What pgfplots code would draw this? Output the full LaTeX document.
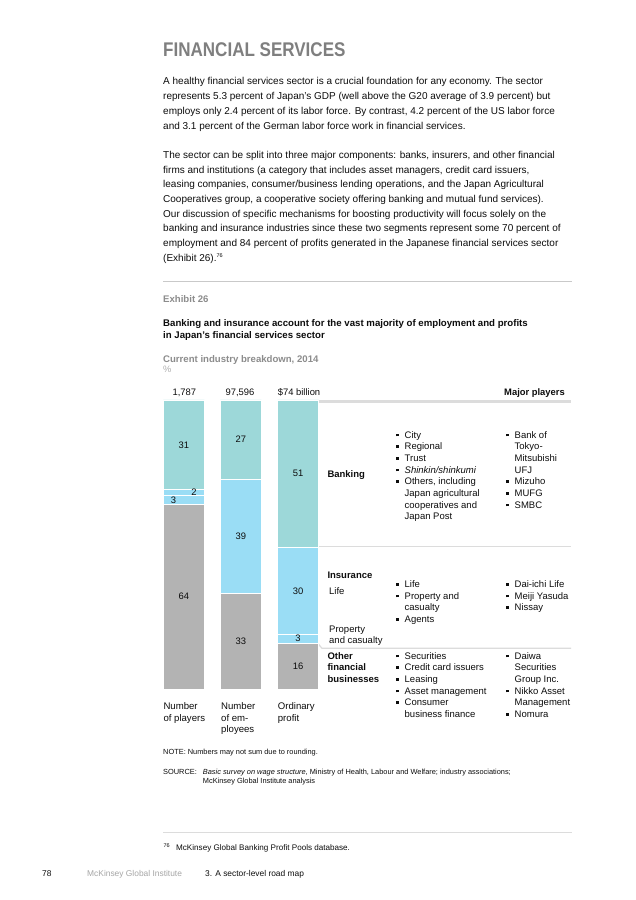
\documentclass[border=0pt]{standalone}
\usepackage{pgfplots}
\pgfplotsset{compat=1.18}
\usepackage{fontspec}
\setmainfont{Liberation Sans}
\usepackage{graphicx}
\definecolor{cteal}{HTML}{9DD8D9}
\definecolor{cblue}{HTML}{9ADDF5}
\definecolor{cgrey}{HTML}{B3B3B3}
\definecolor{headgrey}{HTML}{7F7F7F}
\definecolor{subgrey}{HTML}{8C8C8C}
\definecolor{rulegrey}{HTML}{DCDCDC}
\definecolor{txt}{HTML}{0D0D0D}
\newcommand\fs[2]{\fontsize{#1bp}{#2bp}\selectfont}
\newcommand\tx[4][]{\node[anchor=base west,inner sep=0pt,text=txt,#1] at (#2,{900-#3}) {#4};}
\newcommand\bul{\raisebox{0.2em}{\rule{2.6bp}{2.6bp}}}
\newcommand\bi[4][]{\node[anchor=base west,inner sep=0pt,text=txt,#1] at (#2,{900-#3}) {\bul};\node[anchor=base west,inner sep=0pt,text=txt,#1] at ({#2+8.5},{900-#3}) {#4};}
\begin{document}
\begin{tikzpicture}[x=1bp,y=1bp]
\path[fill=white] (0,0) rectangle (636,900);
% heading
\tx[text=headgrey]{163}{57}{\fs{19.8}{22}\bfseries\scalebox{0.86}[1]{FINANCIAL SERVICES}}
% paragraph 1
\tx{163}{85}{\fs{10}{12}A healthy financial services sector is a crucial foundation for any economy. The sector}
\tx{163}{99.8}{\fs{10}{12}represents 5.3 percent of Japan’s GDP (well above the G20 average of 3.9 percent) but}
\tx{163}{114.6}{\fs{10}{12}employs only 2.4 percent of its labor force. By contrast, 4.2 percent of the US labor force}
\tx{163}{129.4}{\fs{10}{12}and 3.1 percent of the German labor force work in financial services.}
% paragraph 2
\tx{163}{158.5}{\fs{10}{12}The sector can be split into three major components: banks, insurers, and other financial}
\tx{163}{173.2}{\fs{10}{12}firms and institutions (a category that includes asset managers, credit card issuers,}
\tx{163}{187.9}{\fs{10}{12}leasing companies, consumer/business lending operations, and the Japan Agricultural}
\tx{163}{202.6}{\fs{10}{12}Cooperatives group, a cooperative society offering banking and mutual fund services).}
\tx{163}{217.3}{\fs{10}{12}Our discussion of specific mechanisms for boosting productivity will focus solely on the}
\tx{163}{232.0}{\fs{10}{12}banking and insurance industries since these two segments represent some 70 percent of}
\tx{163}{246.7}{\fs{10}{12}employment and 84 percent of profits generated in the Japanese financial services sector}
\tx{163}{261.4}{\fs{10}{12}(Exhibit 26).\textsuperscript{\fs{5.5}{6}76}}
% rule
\draw[rulegrey!80!gray, line width=1bp] (163,{900-282}) -- (572,{900-282});
% exhibit header
\tx[text=subgrey]{163}{302.5}{\fs{9.6}{11}\bfseries Exhibit 26}
\tx{163}{326.8}{\fs{9.65}{11}\bfseries Banking and insurance account for the vast majority of employment and profits}
\tx{163}{338.6}{\fs{9.65}{11}\bfseries in Japan’s financial services sector}
\tx[text=subgrey]{163}{362.2}{\fs{9.6}{11}\bfseries Current industry breakdown, 2014}
\tx[text=subgrey!70]{163}{373}{\fs{9.3}{11}\%}
% column headers
\node[anchor=base,inner sep=0pt,text=txt] at (184.3,{900-395.5}) {\fs{9.4}{11}1,787};
\node[anchor=base,inner sep=0pt,text=txt] at (240,{900-395.5}) {\fs{9.4}{11}97,596};
\tx{277.7}{395.5}{\fs{9.4}{11}\$74 billion}
\node[anchor=base east,inner sep=0pt,text=txt] at (565,{900-395.5}) {\fs{9.4}{11}\bfseries Major players};
% right section rules
\draw[rulegrey, line width=2.6bp] (318.3,{900-401.3}) -- (571,{900-401.3});
\draw[rulegrey, line width=1.2bp] (318.3,{900-546.7}) -- (571,{900-546.7});
\draw[rulegrey, line width=1.2bp] (318.3,{900-644}) -- (322,{900-648.3}) -- (571,{900-648.3});
% stacked bars
\begin{axis}[at={(163.3bp,210.7bp)}, anchor=south west, scale only axis,
  width=155.2bp, height=289.3bp, xmin=-0.358, xmax=2.358, ymin=0, ymax=100,
  hide axis, ybar stacked, bar width=41bp, clip=false]
\addplot[fill=cgrey, draw=white, line width=0.9bp] coordinates {(0,64) (1,33.2) (2,16)};
\addplot[fill=cblue, draw=white, line width=0.9bp] coordinates {(0,3) (1,0) (2,3)};
\addplot[fill=cblue, draw=white, line width=0.9bp] coordinates {(0,2) (1,39.4) (2,30)};
\addplot[fill=cteal, draw=white, line width=0.9bp] coordinates {(0,31) (1,27.4) (2,51)};
\end{axis}
% segment labels
\begin{axis}[at={(163.3bp,210.7bp)}, anchor=south west, scale only axis,
  width=155.2bp, height=289.3bp, xmin=-0.358, xmax=2.358, ymin=0, ymax=100,
  hide axis, clip=false]
\addplot[only marks, mark=none, nodes near coords, point meta=explicit symbolic,
  every node near coord/.style={anchor=center, inner sep=0.6bp, text=txt, font=\fs{9.4}{11}}]
  table[meta=lab] {
x y lab
0 32 64
-0.18 65.3 3
0.18 68.2 2
0 84.5 31
1 16.6 33
1 52.9 39
1 86.3 27
2 8 16
2 17.5 3
2 34 30
2 74.5 51
};
\end{axis}
% bar captions
\tx{163.3}{709.5}{\fs{9.6}{11}Number}
\tx{163.3}{721.2}{\fs{9.6}{11}of players}
\tx{221}{709.5}{\fs{9.6}{11}Number}
\tx{221}{721.2}{\fs{9.6}{11}of em-}
\tx{221}{732.8}{\fs{9.6}{11}ployees}
\tx{277.7}{709.5}{\fs{9.6}{11}Ordinary}
\tx{277.7}{721.2}{\fs{9.6}{11}profit}
% banking
\tx{327.3}{477.3}{\fs{9.5}{11}\bfseries Banking}
\bi{396}{438.3}{\fs{9.5}{11}City}
\bi{396}{450}{\fs{9.5}{11}Regional}
\bi{396}{461.6}{\fs{9.5}{11}Trust}
\bi{396}{473.3}{\fs{9.5}{11}\itshape Shinkin/shinkumi}
\bi{396}{485}{\fs{9.5}{11}Others, including}
\tx{404.5}{496.6}{\fs{9.5}{11}Japan agricultural}
\tx{404.5}{508.3}{\fs{9.5}{11}cooperatives and}
\tx{404.5}{520}{\fs{9.5}{11}Japan Post}
\bi{506}{438.3}{\fs{9.5}{11}Bank of}
\tx{514.5}{450}{\fs{9.5}{11}Tokyo-}
\tx{514.5}{461.6}{\fs{9.5}{11}Mitsubishi}
\tx{514.5}{473.3}{\fs{9.5}{11}UFJ}
\bi{506}{485}{\fs{9.5}{11}Mizuho}
\bi{506}{496.6}{\fs{9.5}{11}MUFG}
\bi{506}{508.3}{\fs{9.5}{11}SMBC}
% insurance
\tx{327.3}{578.3}{\fs{9.5}{11}\bfseries Insurance}
\tx{329}{595}{\fs{9.5}{11}Life}
\tx{329}{632.6}{\fs{9.5}{11}Property}
\tx{329}{643.8}{\fs{9.5}{11}and casualty}
\bi{396}{587.6}{\fs{9.5}{11}Life}
\bi{396}{599.3}{\fs{9.5}{11}Property and}
\tx{404.5}{611}{\fs{9.5}{11}casualty}
\bi{396}{622.6}{\fs{9.5}{11}Agents}
\bi{506}{587.6}{\fs{9.5}{11}Dai-ichi Life}
\bi{506}{599.3}{\fs{9.5}{11}Meiji Yasuda}
\bi{506}{611}{\fs{9.5}{11}Nissay}
% other
\tx{327.3}{659.3}{\fs{9.5}{11}\bfseries Other}
\tx{327.3}{671}{\fs{9.5}{11}\bfseries financial}
\tx{327.3}{682.6}{\fs{9.5}{11}\bfseries businesses}
\bi{396}{659.3}{\fs{9.5}{11}Securities}
\bi{396}{671}{\fs{9.5}{11}Credit card issuers}
\bi{396}{682.6}{\fs{9.5}{11}Leasing}
\bi{396}{694.3}{\fs{9.5}{11}Asset management}
\bi{396}{706}{\fs{9.5}{11}Consumer}
\tx{404.5}{717.6}{\fs{9.5}{11}business finance}
\bi{506}{659.3}{\fs{9.5}{11}Daiwa}
\tx{514.5}{671}{\fs{9.5}{11}Securities}
\tx{514.5}{682.6}{\fs{9.5}{11}Group Inc.}
\bi{506}{694.3}{\fs{9.5}{11}Nikko Asset}
\tx{514.5}{706}{\fs{9.5}{11}Management}
\bi{506}{717.6}{\fs{9.5}{11}Nomura}
% notes
\tx{163}{755}{\fs{7.4}{8.5}NOTE: Numbers may not sum due to rounding.}
\tx{163}{775}{\fs{7.4}{8.5}SOURCE:}
\tx{202.7}{775}{\fs{7.4}{8.5}\textit{Basic survey on wage structure}, Ministry of Health, Labour and Welfare; industry associations;}
\tx{202.7}{783.5}{\fs{7.4}{8.5}McKinsey Global Institute analysis}
% footnote
\draw[rulegrey, line width=1bp] (163,{900-832.7}) -- (572,{900-832.7});
\tx{163.3}{848}{\fs{5.5}{6}76}
\tx{176}{851}{\fs{8.1}{10}McKinsey Global Banking Profit Pools database.}
% footer
\tx{42}{876.5}{\fs{8.4}{10}78}
\tx[text=gray!70]{87}{876.5}{\fs{8.4}{10}McKinsey Global Institute}
\tx{205}{876.5}{\fs{8.4}{10}3. A sector-level road map}
\end{tikzpicture}
\end{document}
